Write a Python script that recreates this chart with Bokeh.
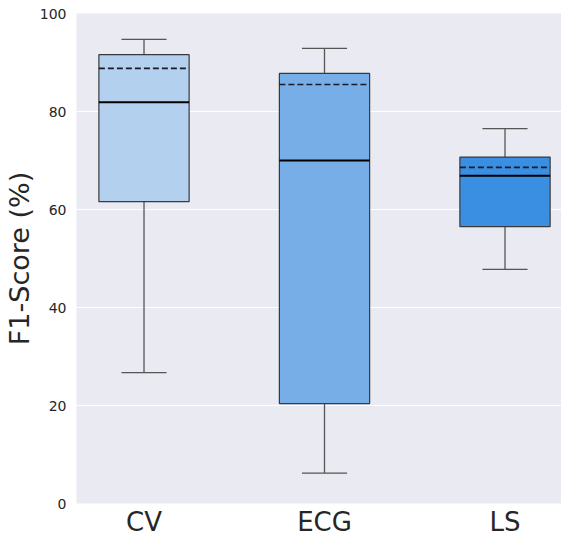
from bokeh.plotting import figure
from bokeh.models import ColumnDataSource, FixedTicker, Range1d
from bokeh.embed import file_html
from bokeh.resources import INLINE

categories = ["CV", "ECG", "LS"]
positions = [0, 1, 2]
whisker_low = [26.7, 6.2, 47.8]
q1 = [61.6, 20.4, 56.5]
median = [81.9, 70.0, 66.9]
q3 = [91.6, 87.8, 70.7]
whisker_high = [94.7, 92.9, 76.5]
mean = [88.8, 85.5, 68.6]
colors = ["#b3d0ee", "#77aee8", "#3a8fe3"]

box_w = 0.5
cap_w = 0.25

src = ColumnDataSource(dict(
    x=positions, low=whisker_low, q1=q1, med=median, q3=q3, high=whisker_high,
    mean=mean, color=colors,
    bl=[p - box_w / 2 for p in positions], br=[p + box_w / 2 for p in positions],
    cl=[p - cap_w / 2 for p in positions], cr=[p + cap_w / 2 for p in positions],
))

p = figure(width=561, height=539, output_backend="svg", toolbar_location=None,
           x_range=Range1d(-0.374, 2.313), y_range=Range1d(0, 100),
           min_border_left=72, min_border_right=0, min_border_top=13, min_border_bottom=30)

p.background_fill_color = "#eaeaf2"
p.border_fill_color = "white"
p.outline_line_color = None
p.xgrid.grid_line_color = None
p.ygrid.grid_line_color = "white"
p.ygrid.grid_line_width = 1

wc = "#555555"
p.segment(x0="x", y0="q3", x1="x", y1="high", source=src, line_color=wc, line_width=1.3)
p.segment(x0="x", y0="low", x1="x", y1="q1", source=src, line_color=wc, line_width=1.3)
p.segment(x0="cl", y0="high", x1="cr", y1="high", source=src, line_color=wc, line_width=1.3)
p.segment(x0="cl", y0="low", x1="cr", y1="low", source=src, line_color=wc, line_width=1.3)
p.vbar(x="x", width=box_w, bottom="q1", top="q3", source=src, fill_color="color",
       line_color="#3a3a3a", line_width=1.2)
p.segment(x0="bl", y0="med", x1="br", y1="med", source=src, line_color="black", line_width=2)
p.segment(x0="bl", y0="mean", x1="br", y1="mean", source=src, line_color="#1a1a2a",
          line_width=1.6, line_dash="6 3")

p.yaxis.ticker = FixedTicker(ticks=[0, 20, 40, 60, 80, 100])
p.xaxis.ticker = FixedTicker(ticks=positions)
p.xaxis.major_label_overrides = {pos: c for pos, c in zip(positions, categories)}

for ax in (p.xaxis, p.yaxis):
    ax.axis_line_color = None
    ax.major_tick_line_color = None
    ax.minor_tick_line_color = None
    ax.major_tick_out = 0
    ax.major_tick_in = 0
    ax.minor_tick_out = 0
    ax.minor_tick_in = 0
    ax.major_label_text_color = "#262626"
    ax.major_label_text_font = "DejaVu Sans"

p.yaxis.major_label_text_font_size = "14px"
p.yaxis.major_label_standoff = 10
p.xaxis.major_label_text_font_size = "26px"
p.xaxis.major_label_standoff = 3
p.yaxis.axis_label = "F1-Score (%)"
p.yaxis.axis_label_text_font = "DejaVu Sans"
p.yaxis.axis_label_text_font_size = "27px"
p.yaxis.axis_label_text_font_style = "normal"
p.yaxis.axis_label_text_color = "#262626"
p.yaxis.axis_label_standoff = 2

open("out.html", "w").write(file_html(p, INLINE))
